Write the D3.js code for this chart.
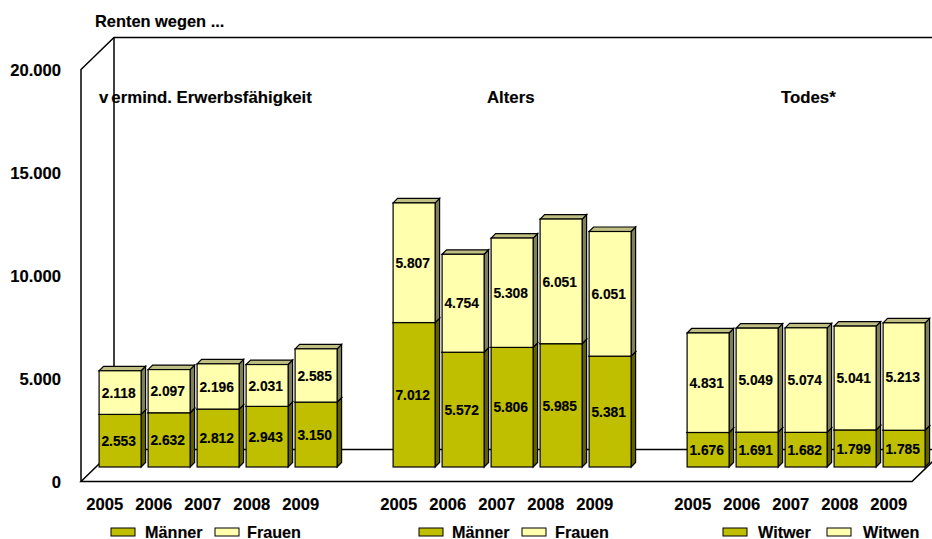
<!DOCTYPE html>
<html><head><meta charset="utf-8"><style>html,body{margin:0;background:#fff}svg{display:block}text{font-family:"Liberation Sans",Arial,sans-serif;font-weight:bold;fill:#000;stroke:#000;stroke-width:.15px}</style>
<script src="https://d3js.org/d3.v7.min.js"></script></head><body><script>
const years=["2005","2006","2007","2008","2009"];
const groups=["vermind. Erwerbsfähigkeit","Alters","Todes*"];
const lowerValues=[[2553,2632,2812,2943,3150],[7012,5572,5806,5985,5381],[1676,1691,1682,1799,1785]];
const upperValues=[[2118,2097,2196,2031,2585],[5807,4754,5308,6051,6051],[4831,5049,5074,5041,5213]];
const legendLabels=[["Männer","Frauen"],["Männer","Frauen"],["Witwer","Witwen"]];
const yTicks=[0,5000,10000,15000,20000];
const W=932,H=539;
const fmt=v=>d3.format(",")(v).replace(/,/g,".");
const svg=d3.select("body").append("svg").attr("width",W).attr("height",H);
const depth={x:33,y:32}, barDepth=4.5;
const yAxis=d3.scaleLinear().domain([0,20000]).range([481.5,69.5]);
const yBar=v=>yAxis(v)-14.5;
const slots=[];groups.forEach((g,i)=>{years.forEach(y=>slots.push(i+"-"+y));if(i<2)slots.push("gap"+i)});
const x=d3.scaleBand().domain(slots).range([95.6,928.6]).paddingInner(0.143).paddingOuter(0.0715);
const left=81,right=912;
const wall=svg.append("g").attr("fill","none").attr("stroke","#000").attr("stroke-width",1.5);
const line=d3.line();
wall.append("path").attr("d",line([[left,yAxis(0)],[left,yAxis(20000)],[left+depth.x,yAxis(20000)-depth.y],[right+depth.x,yAxis(20000)-depth.y]]));
wall.append("path").attr("d",line([[left+depth.x,yAxis(20000)-depth.y],[left+depth.x,yAxis(0)-depth.y],[right+depth.x,yAxis(0)-depth.y]]));
wall.append("path").attr("d",line([[left+depth.x,yAxis(0)-depth.y],[left,yAxis(0)],[right,yAxis(0)],[right+depth.x,yAxis(0)-depth.y]]));
svg.append("g").selectAll("text").data(yTicks).join("text").attr("x",61).attr("y",d=>yAxis(d)+6).attr("text-anchor","end").attr("font-size",16.6).text(fmt);
const palette={low:{f:"#BFBF00",s:"#5f5f00",t:"#8f8f00"},up:{f:"#FFFFAE",s:"#7f7f58",t:"#bfbf84"}};
function bar(g,bx,w,y0,y1,c){
 g.append("path").attr("d",line([[bx+w,y0],[bx+w+barDepth,y0-barDepth],[bx+w+barDepth,y1-barDepth],[bx+w,y1]])+"Z").attr("fill",c.s);
 g.append("path").attr("d",line([[bx,y1],[bx+barDepth,y1-barDepth],[bx+w+barDepth,y1-barDepth],[bx+w,y1]])+"Z").attr("fill",c.t);
 g.append("rect").attr("x",bx).attr("y",y1).attr("width",w).attr("height",y0-y1).attr("fill",c.f);
}
const bars=svg.append("g").attr("stroke","#000").attr("stroke-width",1.2);
const labels=svg.append("g");
groups.forEach((gn,i)=>{years.forEach((yr,j)=>{
 const k=i+"-"+yr,bx=x(k),w=x.bandwidth(),lo=lowerValues[i][j],up=upperValues[i][j];
 const g=bars.append("g");
 bar(g,bx,w,yBar(0),yBar(lo),palette.low);
 bar(g,bx,w,yBar(lo),yBar(lo+up),palette.up);
 labels.append("text").attr("x",bx+w/2-1.4).attr("y",(yBar(0)+yBar(lo))/2+5.2).attr("text-anchor","middle").attr("font-size",13.8).text(fmt(lo));
 labels.append("text").attr("x",bx+w/2-1.4).attr("y",(yBar(lo)+yBar(lo+up))/2+5.2).attr("text-anchor","middle").attr("font-size",13.8).text(fmt(up));
 labels.append("text").attr("x",bx+w/2-15.4).attr("y",510).attr("text-anchor","middle").attr("font-size",16.6).text(yr);
});});
svg.append("text").attr("x",95).attr("y",27).attr("font-size",16.4).text("Renten wegen ...");
const titleX=[99,487,781];
groups.forEach((g,i)=>{
 const t=svg.append("text").attr("x",titleX[i]).attr("y",102.5).attr("font-size",16.8);
 if(i===0){t.append("tspan").text(g[0]);t.append("tspan").attr("dx",3).text(g.slice(1));}
 else t.text(g);
});
const legendX=[[111,145,215,247],[419,452,522,555],[723,758,827,863]];
legendLabels.forEach((ls,i)=>ls.forEach((l,j)=>{
 svg.append("rect").attr("x",legendX[i][j*2]).attr("y",528).attr("width",24).attr("height",8).attr("fill",j?palette.up.f:palette.low.f).attr("stroke","#000").attr("stroke-width",1);
 svg.append("text").attr("x",legendX[i][j*2+1]).attr("y",537.5).attr("font-size",16.2).text(l);
}));
</script></body></html>
